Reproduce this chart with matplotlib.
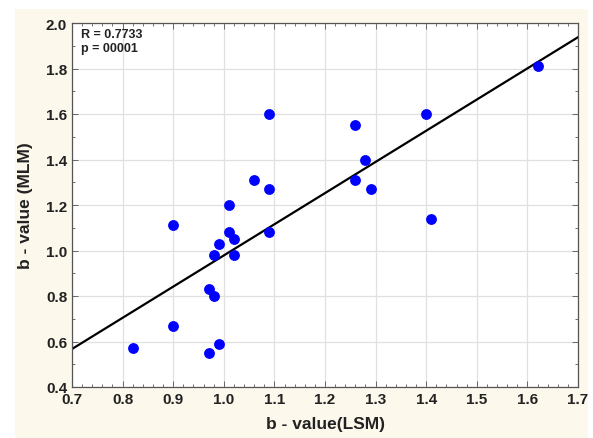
import numpy as np
import matplotlib
matplotlib.use("Agg")
import matplotlib.pyplot as plt
from matplotlib.patches import Rectangle
from matplotlib.ticker import MultipleLocator

plt.rcParams['font.family'] = ['Liberation Sans', 'DejaVu Sans']

# b-values
b_lsm = [0.82, 0.90, 0.90, 0.97, 0.97, 0.98, 0.98, 0.99, 0.99, 1.01, 1.01, 1.02,
         1.02, 1.06, 1.09, 1.09, 1.09, 1.26, 1.26, 1.28, 1.29, 1.40, 1.41, 1.62]
b_mlm = [0.57, 0.67, 1.11, 0.55, 0.83, 0.80, 0.98, 0.59, 1.03, 1.08, 1.20, 1.05,
         0.98, 1.31, 1.27, 1.08, 1.60, 1.55, 1.31, 1.40, 1.27, 1.60, 1.14, 1.81]
annot = "R = 0.7733\np = 00001"

fig = plt.figure(figsize=(5.93, 4.39), dpi=100)
fig.patch.set_facecolor('white')
fig.patches.append(Rectangle((15 / 593, 0), 573 / 593, 1 - 10 / 439,
                             transform=fig.transFigure, facecolor='#fdf8ec',
                             edgecolor='none', zorder=-10))
ax = fig.add_axes([72 / 593, 1 - 388 / 439, 506 / 593, 364 / 439])
ax.set_facecolor('white')

# regression line
k, b = np.polyfit(b_lsm, b_mlm, 1)
xs = np.array([0.7, 1.7])
ax.plot(xs, k * xs + b, color='black', lw=1.6, zorder=2)
ax.scatter(b_lsm, b_mlm, s=46, color='#0000ff', zorder=3)

ax.set_xlim(0.7, 1.7)
ax.set_ylim(0.4, 2.0)
ax.xaxis.set_major_locator(MultipleLocator(0.1))
ax.xaxis.set_minor_locator(MultipleLocator(0.02))
ax.yaxis.set_major_locator(MultipleLocator(0.2))
ax.yaxis.set_minor_locator(MultipleLocator(0.1))
ax.grid(True, which='major', color='#e0e0e0', lw=0.9, zorder=0)
ax.set_axisbelow(True)
ax.tick_params(which='both', direction='in', top=True, right=True,
               labelsize=11, width=0.6, colors='#555555', labelcolor='#222222')
ax.tick_params(which='major', length=4)
ax.tick_params(which='minor', length=2)
for lbl in ax.get_xticklabels() + ax.get_yticklabels():
    lbl.set_fontweight('bold')
ax.xaxis.set_major_formatter(plt.FormatStrFormatter('%.1f'))
ax.yaxis.set_major_formatter(plt.FormatStrFormatter('%.1f'))
for s in ax.spines.values():
    s.set_color('#555555')
    s.set_linewidth(0.9)

ax.set_xlabel("b - value(LSM)", fontsize=12.5, fontweight='bold', color='#222222', labelpad=7)
ax.set_ylabel("b - value (MLM)", fontsize=12.5, fontweight='bold', color='#222222', labelpad=9)
ax.text(0.018, 0.985, annot, transform=ax.transAxes, va='top', ha='left',
        fontsize=9, fontweight='bold', color='#222222', linespacing=1.15)

fig.savefig("out.png", dpi=100)
